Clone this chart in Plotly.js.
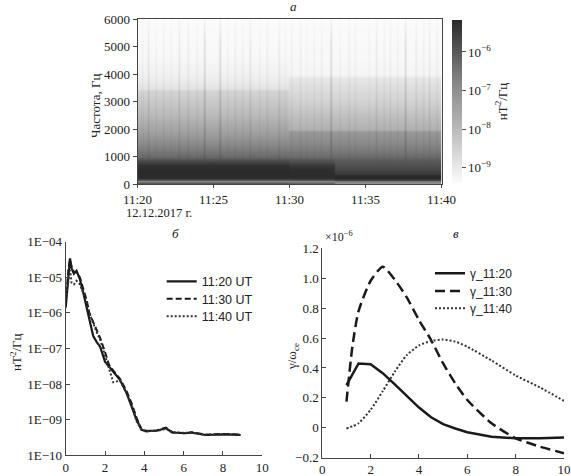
<!DOCTYPE html>
<html><head><meta charset="utf-8">
<script src="https://cdn.plot.ly/plotly-3.0.1.min.js"></script>
<style>html,body{margin:0;padding:0;background:#fff}#chart{width:571px;height:476px}</style>
</head><body><div id="chart"></div>
<script>
// ---------- panel a: spectrogram (log10 of PSD, nT^2/Hz) ----------
const specFreq     = [0, 50, 100, 160, 230, 300, 400, 550, 700, 800, 900, 1000, 1200, 1500, 1900, 2000, 2500, 3000, 3400, 3500, 3850, 3950, 4500, 5000, 5500, 6000];
const profileEarly = [-6.1, -6.0, -6.8, -6.0, -5.25, -5.2, -5.17, -5.2, -5.3, -5.6, -5.95, -6.25, -6.55, -6.9, -7.4, -7.5, -8.0, -8.3, -8.55, -8.88, -9.1, -9.15, -9.3, -9.35, -9.38, -9.4];
const profileMid   = [-6.2, -6.2, -6.8, -5.9, -5.25, -5.2, -5.2, -5.25, -5.45, -5.75, -6.0, -6.3, -6.55, -6.85, -7.2, -7.8, -8.15, -8.5, -8.7, -8.75, -8.95, -9.25, -9.32, -9.35, -9.38, -9.4];
const profileLate  = [-6.8, -7.0, -6.5, -5.6, -5.15, -5.12, -5.5, -5.7, -5.85, -5.95, -6.1, -6.3, -6.55, -6.85, -7.2, -7.8, -8.15, -8.5, -8.7, -8.75, -8.95, -9.25, -9.32, -9.35, -9.38, -9.4];
const streakMask   = [0, 0, 0, 0, 0, 0, 0, 0, 0, 0, 0.1, 0.3, 0.4, 0.6, 0.9, 1, 1, 1, 1, 1, 1, 1, 1, 1, 0.7, 0.3];
const midStart = 10, lateStart = 13;           // minutes after 11:20
const streakTimes  = [0.3, 0.71, 1.2, 1.7, 2.2, 2.68, 3.34, 3.9, 4.44, 5.43, 5.9, 6.41, 6.9, 7.4, 8.0, 8.5, 9.26, 9.7, 10.14, 10.69, 11.1, 11.57, 12.1, 12.66, 13.3, 13.87, 14.3, 14.75, 15.2, 15.74, 16.2, 16.61, 17.1, 17.6, 18.26, 18.8, 19.24, 19.68];
const streakLevels = [0.15, 0.4, 0.15, 0.2, 0.15, 0.4, 0.3, 0.2, 0.7, 0.7, 0.15, 0.25, 0.2, 0.4, 0.15, 0.25, 0.35, 0.15, 0.2, 0.25, 0.15, 0.2, 0.2, 0.7, 0.15, 0.25, 0.2, 0.25, 0.15, 0.35, 0.2, 0.25, 0.2, 0.7, 0.3, 0.2, 0.35, 0.25];
const timeTickVals = [0, 5, 10, 15, 20];
const timeTickText = ['11:20', '11:25', '11:30', '11:35', '11:40'];
const cbTickVals   = [-9, -8, -7, -6];
const cbTickText   = ['10<sup>−9</sup>', '10<sup>−8</sup>', '10<sup>−7</sup>', '10<sup>−6</sup>'];

// ---------- panel б: spectra ----------
const fKHz  = [0, 0.08, 0.15, 0.22, 0.3, 0.42, 0.55, 0.72, 0.9, 1.07, 1.2, 1.4, 1.58, 1.75, 2.0, 2.2, 2.42, 2.76, 3.1, 3.36, 3.61, 3.87, 4.12, 4.63, 5.1, 5.42, 6.1, 6.4, 7.1, 8.1, 8.9];
const log1120 = [-5.85, -5.3, -4.8, -4.47, -4.75, -4.9, -4.82, -5.05, -5.45, -5.85, -6.2, -6.65, -6.82, -6.95, -7.37, -7.5, -7.65, -7.88, -8.26, -8.63, -9.01, -9.29, -9.31, -9.31, -9.24, -9.36, -9.38, -9.36, -9.43, -9.41, -9.43];
const log1130 = [-5.7, -5.1, -4.7, -4.5, -4.7, -4.85, -4.85, -5.0, -5.3, -5.65, -6.0, -6.25, -6.5, -6.7, -7.1, -7.45, -7.62, -7.85, -8.2, -8.55, -8.95, -9.3, -9.33, -9.3, -9.22, -9.35, -9.38, -9.35, -9.42, -9.4, -9.42];
const log1140 = [-5.6, -5.3, -5.0, -4.8, -5.15, -5.2, -5.1, -5.2, -5.45, -5.7, -6.0, -6.3, -6.55, -6.75, -7.2, -7.6, -7.95, -7.9, -8.25, -8.6, -9.05, -9.3, -9.32, -9.32, -9.25, -9.36, -9.37, -9.37, -9.42, -9.4, -9.42];
const psdTickVals = [1e-10, 1e-9, 1e-8, 1e-7, 1e-6, 1e-5, 1e-4];
const psdTickText = ['1E−10', '1E−09', '1E−08', '1E−07', '1E−06', '1E−05', '1E−04'];

// ---------- panel в: growth rate (×1e-6) ----------
const gx    = [1.0, 1.25, 1.5, 2.0, 2.5, 3.0, 3.5, 4.0, 4.5, 5.0, 5.5, 6.0, 7.0, 8.0, 9.0, 10.0];
const g1120 = [0.285, 0.36, 0.43, 0.425, 0.365, 0.29, 0.21, 0.135, 0.07, 0.025, -0.005, -0.03, -0.06, -0.07, -0.07, -0.065];
const g1130 = [0.175, 0.55, 0.78, 0.983, 1.077, 0.99, 0.87, 0.72, 0.587, 0.43, 0.297, 0.186, 0.03, -0.07, -0.126, -0.17];
const g1140 = [-0.005, 0.01, 0.03, 0.12, 0.245, 0.375, 0.487, 0.55, 0.58, 0.59, 0.576, 0.542, 0.45, 0.35, 0.27, 0.18];
const gTickVals = [-0.2, 0, 0.2, 0.4, 0.6, 0.8, 1.0, 1.2];
const gTickText = ['−0.2', '0', '0.2', '0.4', '0.6', '0.8', '1.0', '1.2'];

// ---------- build spectrogram table ----------
const times = [];
for (let k = 0; k <= 200; k++) times.push(k / 10);
const streak = times.map(t => {
  let v = 0;
  streakTimes.forEach((s, i) => { if (Math.abs(t - s) < 0.05) v = Math.max(v, streakLevels[i]); });
  return v;
});
const z = specFreq.map((f, i) => times.map((t, j) => {
  const p = t < midStart ? profileEarly : (t < lateStart ? profileMid : profileLate);
  return p[i] + streak[j] * streakMask[i];
}));

const W = 571, H = 476;
const px = x => x / W, py = y => 1 - y / H;
const SERIF = 'Liberation Serif';
const SANS = 'Liberation Sans';
const INK = '#222';

const traces = [
  {type: 'heatmap', x: times, y: specFreq, z: z, xaxis: 'x', yaxis: 'y', zsmooth: 'best',
   zmin: -9.4, zmax: -5.17, hoverinfo: 'skip',
   colorscale: [[0, '#fbfbfb'], [0.1, '#e8e8e8'], [0.35, '#b6b6b6'], [0.6, '#8a8a8a'], [0.8, '#5a5a5a'], [1, '#2a2a2a']],
   colorbar: {x: px(451.7), xanchor: 'left', xpad: 0, y: py(101.5), yanchor: 'middle', ypad: 0,
     len: 163, lenmode: 'pixels', thickness: 10, outlinewidth: 0,
     tickvals: cbTickVals, ticktext: cbTickText, ticks: 'outside', ticklen: 4, tickcolor: '#555',
     tickfont: {family: SERIF, size: 13, color: INK},
     title: {text: 'нТ<sup>2</sup>/Гц', side: 'right', font: {family: SERIF, size: 13, color: INK}}}},
  {type: 'scatter', mode: 'lines', name: '11:20 UT', x: fKHz, y: log1120.map(v => Math.pow(10, v)), xaxis: 'x2', yaxis: 'y2', legend: 'legend',
   line: {color: '#1a1a1a', width: 2.2}},
  {type: 'scatter', mode: 'lines', name: '11:30 UT', x: fKHz, y: log1130.map(v => Math.pow(10, v)), xaxis: 'x2', yaxis: 'y2', legend: 'legend2',
   line: {color: '#1a1a1a', width: 2, dash: '6px,3px'}},
  {type: 'scatter', mode: 'lines', name: '11:40 UT', x: fKHz, y: log1140.map(v => Math.pow(10, v)), xaxis: 'x2', yaxis: 'y2', legend: 'legend3',
   line: {color: '#333', width: 2, dash: '2px,2px'}},
  {type: 'scatter', mode: 'lines', name: 'γ_11:20', x: gx, y: g1120, xaxis: 'x3', yaxis: 'y3', legend: 'legend4',
   line: {color: '#1a1a1a', width: 2.5}},
  {type: 'scatter', mode: 'lines', name: 'γ_11:30', x: gx, y: g1130, xaxis: 'x3', yaxis: 'y3', legend: 'legend5',
   line: {color: '#1a1a1a', width: 2.5, dash: '10px,5px', shape: 'spline', smoothing: 0.6}},
  {type: 'scatter', mode: 'lines', name: 'γ_11:40', x: gx, y: g1140, xaxis: 'x3', yaxis: 'y3', legend: 'legend6',
   line: {color: '#333', width: 2, dash: '2px,2px', shape: 'spline', smoothing: 0.6}}
];

const axBase = {showgrid: false, zeroline: false, showline: true, linecolor: '#444', linewidth: 1,
  tickcolor: '#444', tickfont: {family: SERIF, size: 13, color: INK}};

const ann = (text, x, y, xa, ya, opts) => Object.assign({text, x: px(x), y: py(y), xref: 'paper', yref: 'paper',
  xanchor: xa, yanchor: ya, showarrow: false, font: {family: SERIF, size: 13, color: INK}}, opts || {});

const leg = (x, y, size) => ({x: px(x), y: py(y), xanchor: 'left', yanchor: 'middle', bgcolor: 'rgba(0,0,0,0)',
  borderwidth: 0, font: {family: SANS, size: size, color: INK}, itemwidth: 30});

const layout = {
  width: W, height: H, margin: {l: 0, r: 0, t: 0, b: 0},
  paper_bgcolor: '#fff', plot_bgcolor: '#fff',
  font: {family: SERIF, size: 13, color: INK},
  xaxis: Object.assign({}, axBase, {domain: [px(137.5), px(441.5)], range: [0, 20], anchor: 'y',
    tickvals: timeTickVals, ticktext: timeTickText, ticks: 'outside', ticklen: 3, mirror: true}),
  yaxis: Object.assign({}, axBase, {domain: [py(184), py(19)], range: [0, 6000], anchor: 'x',
    dtick: 1000, ticks: 'outside', ticklen: 4, mirror: true}),
  xaxis2: Object.assign({}, axBase, {domain: [px(65.7), px(262.3)], range: [0, 10], anchor: 'y2',
    dtick: 2, ticks: 'inside', ticklen: 4}),
  yaxis2: Object.assign({}, axBase, {domain: [py(455.3), py(241.7)], type: 'log', range: [-10, -4], anchor: 'x2',
    tickvals: psdTickVals, ticktext: psdTickText, ticks: 'inside', ticklen: 4}),
  xaxis3: Object.assign({}, axBase, {domain: [px(322.3), px(564)], range: [0, 10], anchor: 'y3',
    dtick: 2, ticks: 'inside', ticklen: 4}),
  yaxis3: Object.assign({}, axBase, {domain: [py(457.7), py(248.3)], range: [-0.2, 1.2], anchor: 'x3',
    tickvals: gTickVals, ticktext: gTickText, ticks: 'inside', ticklen: 4}),
  showlegend: true,
  legend:  leg(161.7, 281.7, 12.5),
  legend2: leg(161.7, 299, 12.5),
  legend3: leg(161.7, 316.7, 12.5),
  legend4: leg(430, 273.3, 12),
  legend5: leg(430, 291, 12),
  legend6: leg(430, 308.3, 12),
  annotations: [
    ann('<i>а</i>', 293, 7, 'center', 'middle'),
    ann('<i>б</i>', 175, 233, 'center', 'middle'),
    ann('<i>в</i>', 456, 233, 'center', 'middle'),
    ann('12.12.2017 г.', 124, 213, 'left', 'middle', {font: {family: SERIF, size: 12.5, color: INK}}),
    ann('×10<sup>−6</sup>', 323, 236, 'left', 'middle', {font: {family: SERIF, size: 12, color: INK}}),
    ann('Частота, Гц', 95, 106, 'center', 'middle', {textangle: -90}),
    ann('нТ<sup>2</sup>/Гц', 16, 352, 'center', 'middle', {textangle: -90}),
    ann('γ/ω<sub>ce</sub>', 292, 357, 'center', 'middle', {textangle: -90})
  ]
};

Plotly.newPlot('chart', traces, layout, {displayModeBar: false, staticPlot: true});
</script></body></html>
